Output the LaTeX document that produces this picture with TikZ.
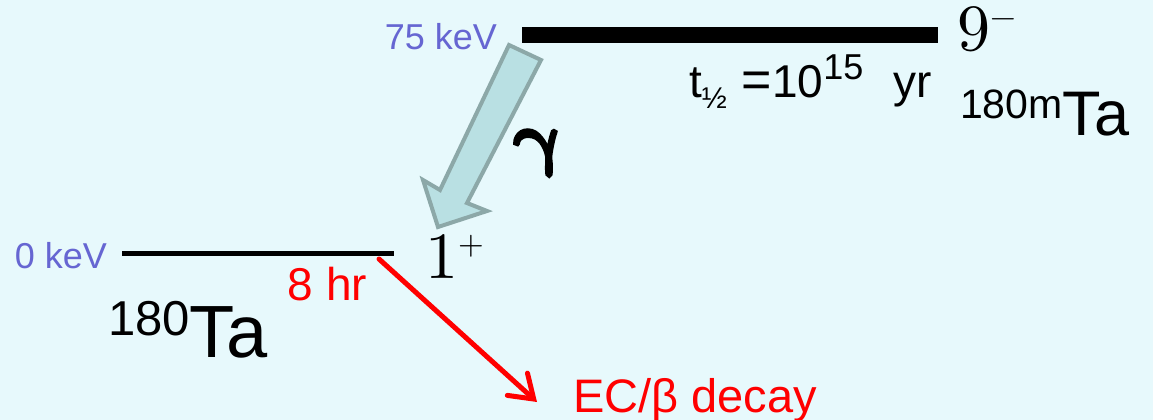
\documentclass[tikz,border=0pt]{standalone}
\usepackage{fontspec}
\usepackage{unicode-math}
\setmainfont{Liberation Sans}
\setmathfont{Latin Modern Math}
\newfontfamily\gammafont[FakeBold=7, FakeStretch=1.2]{Latin Modern Math}
\usetikzlibrary{arrows.meta}
\definecolor{bgcyan}{RGB}{231,249,252}
\definecolor{kevblue}{RGB}{102,102,210}
\definecolor{gammafill}{RGB}{185,224,227}
\definecolor{gammaline}{RGB}{140,168,168}
\newcommand{\fsz}[1]{\fontsize{#1}{#1}\selectfont}

\begin{document}
\begin{tikzpicture}[
  x=1pt, y=-1pt,
  every node/.style={inner sep=0pt, outer sep=0pt},
  energy/.style={anchor=base east, text=kevblue, font=\fsz{36}},
  spin/.style={anchor=base west, font=\fsz{66}},
  isotope/.style={anchor=base west},
  halflife/.style={font=\fsz{46}},
  decayarrow/.style={red, line width=5pt, line cap=round,
    -{Straight Barb[length=22pt, width=30pt, line cap=round]}},
  gammaarrow/.style={fill=gammafill, draw=gammaline, line width=4pt, line join=miter}
]
  \fill[bgcyan] (0,0) rectangle (1153,420);
  \useasboundingbox (0,0) rectangle (1153,420);

  % isomer level
  \coordinate (isoleft) at (522,35);
  \coordinate (isoright) at (938,35);
  \draw[line width=16pt] (isoleft) -- (isoright);
  \node[energy] (e75) at (497,49) {75 keV};
  \node[spin] (spin9) at (957,51) {$9^{\scriptscriptstyle -}$};
  \node[halflife, anchor=base west] (thalf) at (689,97)
    {t\raisebox{-11pt}{\fsz{30}½}\hspace{15pt}{\fsz{52}=}10\raisebox{18pt}{\fsz{36}15}\hspace{30pt}yr};
  \node[isotope] (isomer) at (960,135) {\raisebox{17pt}{\fsz{41}180m}\fsz{63}Ta};

  % ground level
  \coordinate (gsleft) at (122,253);
  \coordinate (gsright) at (394,253);
  \draw[line width=5pt] (gsleft) -- (gsright);
  \node[energy] (e0) at (107,268) {0 keV};
  \node[spin] (spin1) at (425,278) {$1^{\scriptscriptstyle +}$};
  \node[halflife, text=red, anchor=base east] (t8) at (367,300) {8 hr};
  \node[isotope] (ground) at (108,357) {\raisebox{22pt}{\fsz{49}180}\fsz{74}Ta};

  % gamma transition
  \draw[gammaarrow] (509,45) -- (541,60) -- (467,203) -- (487,211) -- (438,227)
    -- (423,180) -- (440,190) -- cycle;
  \node[font=\gammafont\fsz{68}] (gam) at (537,153) {γ};

  % EC / beta decay
  \coordinate (ecstart) at (379,259);
  \coordinate (ectip) at (537,402);
  \draw[decayarrow] (ecstart) -- (ectip);
  \node[halflife, text=red, font=\fsz{47}, anchor=base west] (ec) at (573,412) {EC/β decay};
\end{tikzpicture}
\end{document}
